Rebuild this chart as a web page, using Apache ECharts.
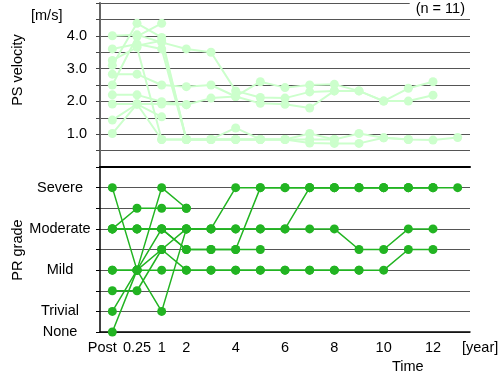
<!DOCTYPE html>
<html>
<head>
    <meta charset="utf-8"/>
    <title>PS velocity / PR grade</title>
</head>
<body style="margin:0">

<div id="main" style="width: 500px;height:375px;"></div>

</body>
<script src="https://cdn.jsdelivr.net/npm/echarts@6/dist/echarts.min.js"></script>

<script>

    // time points (one category per slot, labels only on some)
    var categories = ['Post', '0.25', '1', '2', '3', '4', '5', '6', '7', '8', '9', '10', '11', '12', '13'];
    var tickLabels = ['Post', '0.25', '1', '2', '', '4', '', '6', '', '8', '', '10', '', '12', ''];

    // PR grade levels on the lower panel (index = y value)
    var gradeLabels = ['None', 'Trivial', '', 'Mild', '', 'Moderate', '', 'Severe', ''];

    // PS velocity [m/s], one array per patient
    var psA = [4.0, 4.03, 3.8, 3.6, 3.5, 2.32, 2.12, 2.1, 2.29, 2.32, 2.32, 2.01, 2.01, 2.19, null];
    var psB = [2.83, 2.83, 2.5, 2.45, 2.5, 2.15, 2.6, 2.42, 2.5, 2.52, 2.32, 2.01, 2.4, 2.6, null];
    var psC = [2.2, 2.2, 1.99, 1.9, 2.1, 2.15, 1.94, 1.91, 1.8, 2.32, null, null, null, null, null];
    var psD = [3.6, 3.75, 3.6, 0.84, 0.84, 0.84, 0.84, 0.84, 0.73, 0.72, 0.72, 0.89, 0.84, 0.82, 0.9];
    var psE = [3.25, 3.65, 0.84, 0.84, 0.84, 1.19, 0.84, 0.84, 1.02, 0.84, 1.02, 0.89, 0.84, null, null];
    var psF = [3.1, 4.38, 3.95, 0.84, 0.84, 0.84, 0.84, 0.84, 0.84, 0.84, null, null, null, null, null];
    var psG = [2.5, 3.98, 4.38, null, null, null, null, null, null, null, null, null, null, null, null];
    var psH = [1.92, 1.92, 1.53, null, null, null, null, null, null, null, null, null, null, null, null];
    var psI = [1.43, 1.92, 0.84, 0.84, null, null, null, null, null, null, null, null, null, null, null];
    var psJ = [1.02, 1.92, 1.92, 1.9, null, null, null, null, null, null, null, null, null, null, null];
    var psK = [null, 3.7, 3.85, 0.84, 0.84, 0.84, 0.84, null, null, null, null, null, null, null, null];

    // PR grade (0 None, 1 Trivial, 3 Mild, 5 Moderate, 7 Severe)
    var prA = [7, 3, 1, 5, 5, 7, 7, 7, 7, 7, 7, 7, 7, 7, 7];
    var prB = [5, 6, 6, 6, null, null, null, null, null, null, null, null, null, null, null];
    var prC = [5, 5, 5, 4, 4, 4, 7, 7, 7, 7, 7, 7, 7, 7, null];
    var prD = [3, 3, 3, 3, 3, 3, 3, 3, 3, 3, 3, 3, 4, 4, null];
    var prE = [2, 2, 4, 5, 5, 5, 5, 5, 5, 5, 4, 4, 5, 5, null];
    var prF = [1, 3, 4, 3, 3, 3, 3, 3, 3, 3, 3, null, null, null, null];
    var prG = [0, 3, 7, 6, null, null, null, null, null, null, null, null, null, null, null];
    var prH = [3, 3, 5, 4, 4, 4, 4, null, null, null, null, null, null, null, null];
    var prI = [5, 5, 5, 5, 5, 5, 5, 5, 7, 7, 7, 7, 7, 7, null];
    var prK = [5, 5, 5, 5, null, null, null, null, null, null, null, null, null, null, null];

    var psSets = [psA, psB, psC, psD, psE, psF, psG, psH, psI, psJ, psK];
    var prSets = [prA, prB, prC, prD, prE, prF, prG, prH, prI, prK];

    var FONT = 'Liberation Sans, Arial, sans-serif';
    var FS = 14.5;

    var series = [];
    psSets.forEach(function (d) {
        series.push({
            type: 'line', xAxisIndex: 0, yAxisIndex: 0, data: d,
            symbol: 'circle', symbolSize: 9, color: '#ccffcc',
            lineStyle: {width: 2, color: '#ccffcc'}, itemStyle: {color: '#ccffcc'}
        });
    });
    prSets.forEach(function (d) {
        series.push({
            type: 'line', xAxisIndex: 1, yAxisIndex: 1, data: d,
            symbol: 'circle', symbolSize: 9, color: '#22b422',
            lineStyle: {width: 1.5, color: '#22b422'}, itemStyle: {color: '#22b422'}
        });
    });

    var myChart = echarts.init(document.getElementById('main'));

    var option = {
        animation: false,
        textStyle: {fontFamily: FONT},
        title: {
            text: '(n = 11)', right: 30, top: 0,
            backgroundColor: '#fff', padding: [1, 5, 1, 6],
            textStyle: {fontSize: FS, fontWeight: 'normal', color: '#000', fontFamily: FONT}
        },
        grid: [
            {left: 100, right: 30, top: 3, height: 164},
            {left: 100, right: 30, top: 167, height: 165}
        ],
        xAxis: [
            {
                type: 'category', gridIndex: 0, data: categories, boundaryGap: true,
                axisLine: {lineStyle: {color: '#000', width: 2}},
                axisTick: {inside: true, length: 3, interval: 0, lineStyle: {color: '#000'}},
                axisLabel: {show: false}
            },
            {
                type: 'category', gridIndex: 1, data: categories, boundaryGap: true,
                axisLine: {lineStyle: {color: '#000', width: 1.5}},
                axisTick: {inside: true, length: 3, interval: 0, lineStyle: {color: '#000'}},
                axisLabel: {
                    interval: 0, margin: 8, fontSize: FS, color: '#000',
                    formatter: function (v, i) {
                        var t = tickLabels[i];
                        return t === 'Post' ? '{p|Post}' : t;
                    },
                    rich: {p: {fontSize: FS, color: '#000', padding: [0, 20, 0, 0]}}
                }
            }
        ],
        yAxis: [
            {
                type: 'value', gridIndex: 0, min: 0, max: 5, interval: 0.5,
                axisLine: {show: true, lineStyle: {color: '#666', width: 2}},
                axisTick: {show: true, length: 4, lineStyle: {color: '#444'}},
                splitLine: {lineStyle: {color: '#555', width: 1}},
                axisLabel: {
                    margin: 13, fontSize: FS, color: '#000',
                    formatter: function (v) {
                        return (v >= 1 && v <= 4 && v % 1 === 0) ? v.toFixed(1) : '';
                    }
                }
            },
            {
                type: 'value', gridIndex: 1, min: 0, max: 8, interval: 1,
                axisLine: {show: true, lineStyle: {color: '#000', width: 1.5}},
                axisTick: {show: true, length: 4, lineStyle: {color: '#000'}},
                splitLine: {lineStyle: {color: '#555', width: 1}},
                axisLabel: {
                    margin: 40, align: 'center', fontSize: FS, color: '#000',
                    formatter: function (v) { return gradeLabels[v] || ''; }
                }
            }
        ],
        graphic: [
            {type: 'text', left: 31, top: 8, style: {text: '[m/s]', font: FS + 'px ' + FONT, fill: '#000'}},
            {type: 'text', x: 18, y: 70, rotation: Math.PI / 2,
                style: {text: 'PS velocity', font: FS + 'px ' + FONT, fill: '#000', align: 'center', verticalAlign: 'middle'}},
            {type: 'text', x: 18, y: 250, rotation: Math.PI / 2,
                style: {text: 'PR grade', font: FS + 'px ' + FONT, fill: '#000', align: 'center', verticalAlign: 'middle'}},
            {type: 'text', left: 462, top: 340, style: {text: '[year]', font: FS + 'px ' + FONT, fill: '#000'}},
            {type: 'text', left: 392, top: 359, style: {text: 'Time', font: FS + 'px ' + FONT, fill: '#000'}}
        ],
        series: series
    };

    myChart.setOption(option);

</script>
</html>
